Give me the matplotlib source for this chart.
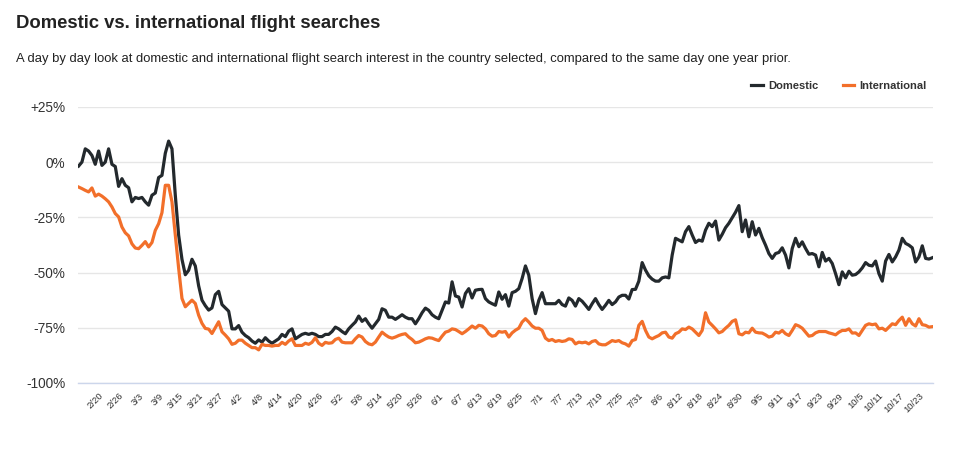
import numpy as np
import pandas as pd
import matplotlib
matplotlib.use("Agg")
import matplotlib.pyplot as plt
from matplotlib.ticker import FuncFormatter

plt.rcParams['font.family'] = ['Liberation Sans', 'DejaVu Sans']

# daily values, % vs same day one year prior
domestic = [
    -1.8, 0, 6, 5, 3, -1, 5, -1.5, 0, 6,
    -1, -2, -11, -7.5, -10.5, -11.6, -18, -16, -16.5, -16,
    -18, -19.5, -15, -14, -7, -6, 4, 9.5, 6, -15,
    -33, -44, -51, -49, -44, -47, -56, -62.5, -65, -67,
    -66, -60, -58.5, -64.5, -66, -67.5, -75.5, -75.5, -74, -77,
    -78.5, -79.5, -81, -82, -80.5, -81.5, -79.5, -81, -82, -81,
    -80, -78, -79, -76.5, -75.5, -80, -79, -78, -77.5, -78,
    -77.5, -78, -79, -79, -78, -78,
    # from late April
    -76.7, -74.7, -75.5, -76.7, -77.7, -75.5, -73.9, -72.4, -69.7, -72.1,
    -70.9, -73.2, -75.2, -73.2, -71.2, -66.4, -67.1, -70.2, -70.2, -71.2,
    -70.2, -69.1, -70.2, -70.9, -70.9, -73.2, -70.9, -68.2, -66.1, -67.1,
    -69.1, -70.2, -70.9, -67.1, -63.3, -63.8, -54.2, -60.6, -61.1, -65.6,
    -59.5, -57.3, -61.5, -58, -57.7, -57.6, -61.8, -63.3, -64.1, -64.8,
    -58.8, -62.1, -60, -65.2, -59.1, -58.5, -57.3, -52.7, -47, -51.2,
    -61.8, -68.6, -62.6, -59.1, -64.1, -64.1, -64.1, -64.1, -62.6, -64.5,
    -65.2, -61.5, -62.6, -65.2, -61.8, -63, -64.8, -66.7, -64.1, -61.8,
    -64.5, -66.7, -64.8, -62.6, -64.5, -63.3, -61.1, -60.3, -60.3, -62,
    # from end of July
    -57.7, -57.6, -53.9, -45.5, -48.9, -51.5, -53, -53.9, -53.9, -52.4,
    -52, -52.4, -42.1, -34.5, -35.3, -36.1, -31.5, -29.2, -33, -36.4,
    -35.3, -35.8, -30.8, -27.7, -29.2, -26.7, -35.3, -32.7, -29.7, -27.7,
    -25.2, -22.7, -19.7, -31.5, -26.2, -33.8, -27, -33, -30, -34.2,
    -37.6, -41.4, -43.6, -41.4, -40.9, -38.8, -42.1, -47.9, -39.1, -34.5,
    -38.3, -36.1, -39.1, -41.7, -41.4, -42.1, -47.4, -40.9, -44.8, -43.6,
    -45.9, -50.5, -55.5, -49.7, -52.4, -49.4, -51.2, -50.9, -49.7, -47.9,
    -45.5, -46.7, -47, -44.8, -50.5, -53.9, -44.8, -41.8, -45.2, -42.9,
    -39.8, -34.5, -36.8, -37.6, -38.8, -45.2, -42.9, -37.9, -43.6, -43.9,
    -43.3,
]

international = [
    -11.3, -12, -12.8, -13.5, -11.7, -15.4, -14.5, -15.4, -16.6, -18,
    -20.3, -23.3, -24.8, -29.4, -32, -33.4, -37, -38.9, -39.2, -37.7,
    -36, -38.4, -36.4, -30.9, -27.9, -22.9, -10.5, -10.5, -18, -33,
    -48, -61.7, -65.5, -64, -62.5, -64, -69.3, -73, -75.3, -75.6,
    -77.6, -75, -72.3, -76.8, -78.3, -80, -82.5, -82, -80.6, -80.6,
    -82, -83, -84, -84, -85, -82.5, -83, -83, -83.3, -83,
    -83, -81.6, -82.5, -81, -80, -83, -83, -83, -82, -82.5,
    -81.6, -79.5, -82, -83, -81.6, -82,
    # from late April
    -81.8, -80.3, -79.7, -81.5, -81.8, -81.8, -81.8, -80, -78.5, -79.2,
    -81.2, -82.3, -82.7, -81.5, -79.2, -77, -78.2, -79.2, -79.7, -79.2,
    -78.5, -78, -77.7, -79.2, -80.3, -81.8, -81.5, -80.8, -80, -79.5,
    -79.7, -80.3, -80.8, -78.8, -77, -76.5, -75.5, -75.8, -76.7, -77.7,
    -76.7, -75.5, -74.2, -75.2, -73.9, -74.2, -75.5, -77.7, -78.8, -78.5,
    -76.7, -77, -76.7, -79.2, -77.3, -76.1, -75.2, -72.4, -70.9, -72.4,
    -74.2, -75.2, -75.2, -76.2, -79.7, -80.8, -80.3, -81.2, -80.8, -81.2,
    -80.9, -80, -80.3, -82.3, -81.5, -81.8, -81.5, -82.3, -81.2, -80.8,
    -82.3, -82.7, -82.7, -81.8, -80.8, -81.2, -80.8, -81.8, -82.3, -83.3,
    # from end of July
    -80.8, -80.3, -73.9, -72.1, -76.2, -79.2, -80, -79.2, -78.5, -77.3,
    -77, -79.2, -79.7, -77.7, -77, -75.5, -75.8, -74.7, -75.5, -77,
    -78.5, -76.2, -68.2, -72.4, -73.9, -75.5, -77.3, -76.7, -75.2, -73.9,
    -72.1, -71.4, -77.7, -78.2, -77, -77.3, -75.2, -77, -77.3, -77.4,
    -78.2, -79.2, -78.8, -77, -77.4, -76.2, -77.7, -78.5, -76.2, -73.6,
    -74.2, -75.2, -77, -78.8, -78.5, -77.3, -76.7, -76.7, -76.7, -77.3,
    -77.7, -78.2, -77, -76.2, -76.2, -75.5, -77.4, -77.3, -78.5, -76.2,
    -73.9, -73.2, -73.6, -73.3, -75.5, -75.2, -76.2, -74.7, -73.2, -73.6,
    -71.7, -70.2, -73.9, -70.9, -73.2, -74.2, -70.9, -73.6, -73.9, -74.7,
    -74.5,
]

start_date = "2020-02-14"
first_tick = "2020-02-20"
tick_step = 6
y_ticks = [25, 0, -25, -50, -75, -100]

dates = pd.date_range(start_date, periods=len(domestic), freq="D")
dates_int = pd.date_range(start_date, periods=len(international), freq="D")
ticks = pd.date_range(first_tick, dates[-1], freq=f"{tick_step}D")

fig = plt.figure(figsize=(9.6, 4.49), dpi=100)
ax = fig.add_axes([0.081, 0.147, 0.891, 0.615])

ax.plot(dates, domestic, color="#23292d", lw=2.3, label="Domestic", zorder=3)
ax.plot(dates_int, international, color="#f26f2a", lw=2.3, label="International", zorder=3)

ax.set_ylim(-100, 25)
ax.set_xlim(dates[0] - pd.Timedelta(hours=6), dates[-1] + pd.Timedelta(hours=6))
ax.set_yticks(y_ticks)

def pct(v, pos):
    if v > 0:
        return f"+{v:.0f}%"
    return f"{v:.0f}%"

ax.yaxis.set_major_formatter(FuncFormatter(pct))
ax.set_xticks(ticks)
ax.set_xticklabels([f"{d.month}/{d.day}" for d in ticks], rotation=45,
                   ha="right", rotation_mode="anchor", fontsize=6.8, color="#333333")
ax.tick_params(axis="y", length=0, labelsize=9.8, labelcolor="#333333", pad=9)
ax.tick_params(axis="x", length=0, pad=6)

ax.grid(axis="y", color="#e6e6e6", lw=1)
ax.set_axisbelow(True)
for s in ["top", "right", "left"]:
    ax.spines[s].set_visible(False)
ax.spines["bottom"].set_color("#ccd6eb")
ax.spines["bottom"].set_linewidth(1)

leg = ax.legend(loc="lower right", bbox_to_anchor=(1.004, 1.02), ncol=2, frameon=False,
                handlelength=1.05, handletextpad=0.45, columnspacing=2.2,
                prop={"weight": "bold", "size": 8})
for t in leg.get_texts():
    t.set_color("#333333")

fig.text(0.017, 0.947, "Domestic vs. international flight searches", fontsize=13.3,
         fontweight="bold", color="#222222", va="center")
fig.text(0.017, 0.869, "A day by day look at domestic and international flight search interest "
         "in the country selected, compared to the same day one year prior.",
         fontsize=9.4, color="#222222", va="center")

plt.savefig("out.png", dpi=100)
